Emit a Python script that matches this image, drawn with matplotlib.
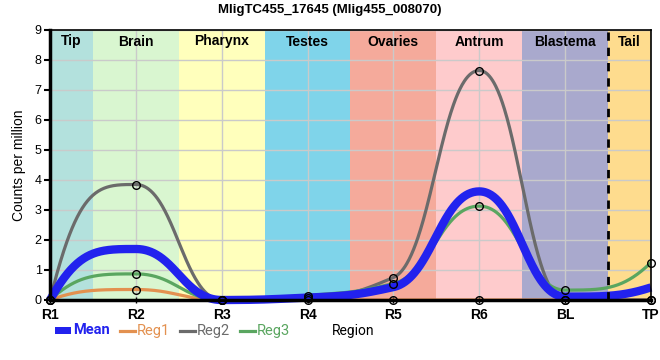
import numpy as np
import matplotlib
matplotlib.use("Agg")
import matplotlib.pyplot as plt
from matplotlib.lines import Line2D
from matplotlib.patches import Rectangle

plt.rcParams['font.family'] = ['Liberation Sans', 'DejaVu Sans']

# data
regions = ['R1', 'R2', 'R3', 'R4', 'R5', 'R6', 'BL', 'TP']
reg1 = [0, 0.35, 0, 0, 0, 0, 0, 0]
reg2 = [0, 3.85, 0, 0.08, 0.75, 7.65, 0, 0]
reg3 = [0, 0.87, 0, 0.15, 0.55, 3.13, 0.33, 1.25]
mean = [0, 1.70, 0, 0.08, 0.43, 3.62, 0.11, 0.42]

bands = ['Tip', 'Brain', 'Pharynx', 'Testes', 'Ovaries', 'Antrum', 'Blastema', 'Tail']
band_edges = [0, 0.5, 1.5, 2.5, 3.5, 4.5, 5.5, 6.5, 7]
band_colors = ['#b3e1dd', '#d9f6d0', '#ffffbc', '#7fd4ea', '#f5aa9b',
               '#fecbcc', '#a9a9cd', '#fedc8e']


def smooth(x, y, n=120, k_in=0.45):
    # monotone bezier curve, flat at local extrema
    x = np.asarray(x, float)
    y = np.asarray(y, float)
    h = np.diff(x)
    d = np.diff(y) / h
    N = len(x)
    m = np.zeros(N)
    for k in range(1, N - 1):
        if d[k - 1] * d[k] > 0:
            v = 2 / (1 / d[k - 1] + 1 / d[k])
            lim = min(abs(d[k - 1]), abs(d[k])) / k_in
            m[k] = np.sign(v) * min(abs(v), lim)
    m[0] = 3 * d[0]
    m[-1] = 3 * d[-1]
    kk = np.full(N, k_in)
    kk[0] = kk[-1] = 1 / 3
    s = np.linspace(0, 1, n)[:, None]
    xs, ys = [], []
    for i in range(N - 1):
        px = np.array([x[i], x[i] + kk[i] * h[i], x[i + 1] - kk[i + 1] * h[i], x[i + 1]])
        py = np.array([y[i], y[i] + kk[i] * h[i] * m[i],
                       y[i + 1] - kk[i + 1] * h[i] * m[i + 1], y[i + 1]])
        b = np.hstack([(1 - s)**3, 3 * (1 - s)**2 * s, 3 * (1 - s) * s**2, s**3])
        xs.append(b @ px)
        ys.append(b @ py)
    return np.concatenate(xs), np.concatenate(ys)


xpos = np.arange(len(regions))

fig = plt.figure(figsize=(6.6, 3.6), dpi=100)
ax = fig.add_axes([50 / 660, 60 / 360, 601 / 660, 270 / 360])

for i, name in enumerate(bands):
    ax.axvspan(band_edges[i], band_edges[i + 1], color=band_colors[i], lw=0, zorder=0)
    ax.text((band_edges[i] + band_edges[i + 1]) / 2, 8.85, name, ha='center', va='top',
            fontsize=10, fontweight='bold', zorder=5)

ax.grid(True, color='#cacaca', lw=1)
for gl in ax.get_xgridlines() + ax.get_ygridlines():
    gl.set_zorder(1)
ax.axvline(6.5, color='black', lw=2, ls=(0, (3, 2.5)), zorder=6)

series = [(reg1, '#e39150', 'Reg1'), (reg2, '#6b6b6b', 'Reg2'), (reg3, '#5aa660', 'Reg3')]
for vals, col, lab in series:
    cx, cy = smooth(xpos, vals)
    ax.plot(cx, cy, color=col, lw=2.3, zorder=3)
cx, cy = smooth(xpos, mean)
ax.plot(cx, cy, color='#2222ee', lw=6, zorder=4, solid_capstyle='butt', clip_on=False)
for vals, col, lab in series:
    ax.plot(xpos, vals, ls='none', marker='o', ms=5.5, mfc='none', mec='black',
            mew=1, zorder=7, clip_on=False)

ax.set_xlim(0, 7)
ax.set_ylim(0, 9)
ax.set_xticks(xpos)
ax.set_xticklabels(regions, fontweight='bold', fontsize=10)
ax.set_yticks(range(10))
ax.tick_params(axis='y', labelsize=9, length=4, width=1.5, pad=2)
ax.tick_params(axis='x', length=5, width=1, pad=3, direction='inout')
ax.set_ylabel('Counts per million', fontsize=10, labelpad=6)
for s in ['left', 'bottom']:
    ax.spines[s].set_linewidth(2.5)
for s in ['top', 'right']:
    ax.spines[s].set_linewidth(1.2)
for sp in ax.spines.values():
    sp.set_zorder(8)

fig.text(0.5, 1 - 9.5 / 360, 'MligTC455_17645 (Mlig455_008070)', ha='center', va='center',
         fontsize=9.5, fontweight='bold')

# legend row along the bottom
W, H = 660, 360
ly = 1 - 330.5 / H
fig.add_artist(Rectangle((55 / W, 1 - 334 / H), 16 / W, 7 / H, color='#2222ee',
                         transform=fig.transFigure, lw=0))
fig.text(73 / W, ly, 'Mean', color='#2222ee', fontsize=10.5, fontweight='bold',
         family=['Roboto', 'DejaVu Sans'], va='center')
legend_x = [120, 180, 240]
for (vals, col, lab), lx in zip(series, legend_x):
    fig.add_artist(Line2D([lx / W, (lx + 15) / W], [ly, ly], color=col, lw=2.3,
                          transform=fig.transFigure))
    fig.text((lx + 17) / W, ly, lab, color=col, fontsize=10.5,
             family=['Roboto', 'DejaVu Sans'], va='center')
fig.text(332 / W, ly, 'Region', fontsize=10, family=['Roboto', 'DejaVu Sans'], va='center')

fig.savefig('out.png', dpi=100)
